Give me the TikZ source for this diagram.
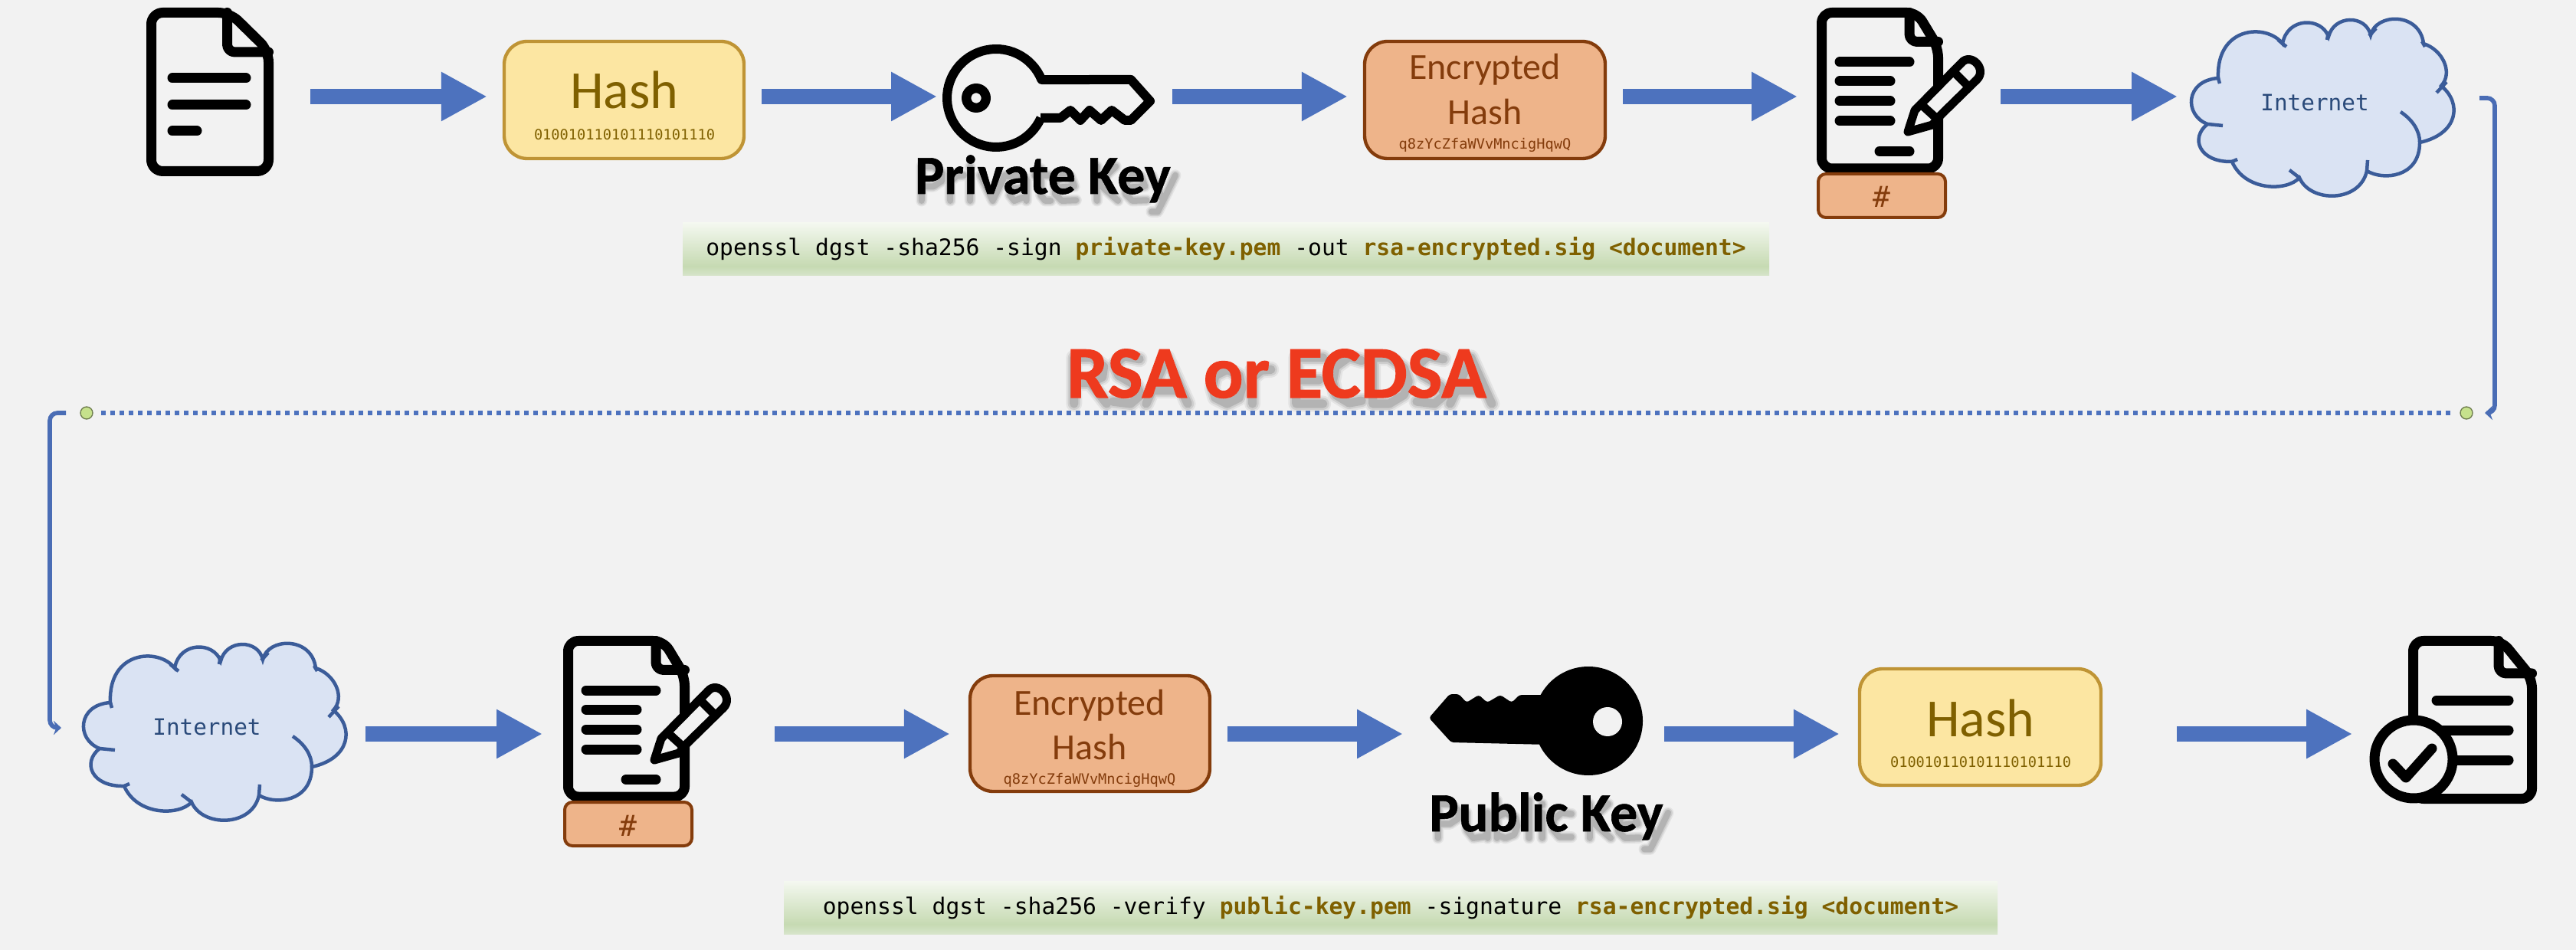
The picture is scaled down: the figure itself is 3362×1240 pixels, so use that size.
\documentclass[tikz,border=0pt]{standalone}
\usepackage{fontspec}
\setmainfont{Carlito}
\newfontfamily\monof{DejaVu Sans Mono}
\newfontfamily\keyf[BoldFeatures={FakeBold=0.8}]{Carlito}
\newfontfamily\titlef[BoldFeatures={FakeBold=1.2}]{Carlito}
\usetikzlibrary{arrows.meta,calc}
\definecolor{bgc}{HTML}{F2F2F2}
\definecolor{arrowc}{HTML}{4D72BE}
\definecolor{hashfill}{HTML}{FCE6A2}
\definecolor{hashline}{HTML}{BF9435}
\definecolor{hashtext}{HTML}{7F6000}
\definecolor{encfill}{HTML}{EEB48A}
\definecolor{encline}{HTML}{843C0C}
\definecolor{cloudfill}{HTML}{DAE3F3}
\definecolor{cloudline}{HTML}{3B5C99}
\definecolor{cloudtext}{HTML}{2A4A7A}
\definecolor{connc}{HTML}{4A6DB5}
\definecolor{dotc}{HTML}{C6E18C}
\definecolor{titlec}{HTML}{EE3A1E}
\definecolor{banA}{HTML}{F4F8F0}
\definecolor{banB}{HTML}{C6DAB2}
\definecolor{banC}{HTML}{D7E5CB}
\pgfdeclareverticalshading{bannershade}{100bp}{color(0bp)=(banC); color(25bp)=(banC); color(34bp)=(banB); color(75bp)=(banA); color(100bp)=(banA)}
\tikzset{
  x=0.3pt,y=-0.3pt,
  blockarrow/.style={draw=arrowc,line width=6pt,-{Triangle[length=18pt,width=18pt,fill=arrowc]}},
  iconbox/.style={inner sep=0pt,outer sep=0pt},
  icon/.style={draw=black,line width=3.9pt,line join=round,line cap=round,fill=bgc},
  iconline/.style={draw=black,line width=3.9pt,line cap=round,line join=round},
  hashbox/.style={draw=hashline,fill=hashfill,line width=1.3pt,rounded corners=9pt,inner sep=0pt},
  encbox/.style={draw=encline,fill=encfill,line width=1.3pt,rounded corners=9pt,inner sep=0pt},
  tagbox/.style={draw=encline,fill=encfill,line width=1.2pt,rounded corners=3pt,inner sep=0pt},
  txt/.style={inner sep=0pt,anchor=base},
  hashbig/.style={txt,text=hashtext,font=\fontsize{21}{21}\selectfont},
  hashsmall/.style={txt,text=hashtext,font=\monof\fontsize{5.6}{6}\selectfont},
  encbig/.style={txt,text=encline,font=\fontsize{14.4}{15}\selectfont},
  encsmall/.style={txt,text=encline,font=\monof\fontsize{5.6}{6}\selectfont},
  cloudtxt/.style={txt,text=cloudtext,font=\monof\fontsize{8.8}{9}\selectfont},
  cmdtxt/.style={txt,text=black,font=\monof\fontsize{8.9}{9}\selectfont},
  banner/.style={shading=bannershade,inner sep=0pt},
  keylabel/.style={txt,text=black,font=\keyf\bfseries\fontsize{21.6}{22}\selectfont},
  connline/.style={draw=connc,line width=1.7pt,rounded corners=3pt},
  dotline/.style={draw=arrowc,line width=1.9pt,dash pattern=on 1.8pt off 1.8pt},
  enddot/.style={circle,draw=black!45!dotc,line width=0.4pt,fill=dotc,minimum size=4.8pt,inner sep=0pt},
}
\newcommand{\hl}[1]{{\bfseries\color{hashtext}#1}}
% soft drop shadow traced as strokes: x, y, scale, stroke width in pt, path
\newcommand{\softshadow}[5]{%
  \begin{scope}[shift={(#1,#2)},scale=#3]
    \foreach \w/\o in {1.5/0.06,1.15/0.09,0.8/0.13} {%
      \draw[black,opacity=\o,line width=\w*#4 pt,line cap=round,line join=round] #5;
    }
  \end{scope}%
}
\newcommand{\cloudshape}{%
  \draw[draw=cloudline,fill=cloudfill,line width=1.35pt]
    (2895,102) .. controls (2892,34) and (2958,30) .. (2979,57)
    .. controls (2985,22) and (3030,22) .. (3039,48)
    .. controls (3046,19) and (3088,19) .. (3094,46)
    .. controls (3100,17) and (3158,15) .. (3163,57)
    .. controls (3188,65) and (3202,95) .. (3186,112)
    .. controls (3214,135) and (3208,175) .. (3158,186)
    .. controls (3158,232) and (3110,236) .. (3089,223)
    .. controls (3080,265) and (3015,265) .. (3001,232)
    .. controls (2985,250) and (2930,250) .. (2913,211)
    .. controls (2870,212) and (2858,180) .. (2881,162)
    .. controls (2850,150) and (2852,105) .. (2895,102) -- cycle;
  \draw[draw=cloudline,line width=1.35pt]
    (3158,186) .. controls (3158,170) and (3148,156) .. (3133,146)
    (2881,162) -- (2901,164)
    (2913,211) -- (2920,208)
    (3001,232) -- (2988,222)
    (3089,223) -- (3090,209)
    (3193,107) -- (3180,121)
    (2895,102) -- (2897,109)
    (2973,52) -- (2984,61)
    (3039,41) -- (3037,52)
    (3101,37) -- (3092,47)
    (3161,54) -- (3165,61);
}
\newcommand{\signeddoc}[1]{%
  \node[iconbox,minimum width=49.5pt,minimum height=65.1pt] (doc#1) at (2453.5,118.5) {};
  \draw[icon,rounded corners=4pt] (2377.5,16.5) -- (2502,16.5) -- (2529.5,62) -- (2529.5,220) -- (2377.5,220) -- cycle;
  \draw[iconline,rounded corners=3pt] (2492,16.5) -- (2492,54.5) -- (2529.5,54.5);
  \draw[iconline] (2401,81) -- (2492,81) (2401,106) -- (2467,106) (2401,132) -- (2467,132) (2401,158) -- (2467,158) (2453,197.5) -- (2492,197.5);
  \draw[icon,line width=3.3pt,fill=bgc] (2490,172) -- (2499,144) -- (2560,82)
     .. controls (2572,68) and (2594,90) .. (2580,104) -- (2533,150) -- (2522,163) -- cycle;
  \draw[iconline,line width=3.3pt,line cap=butt] (2549.5,93.5) -- (2570,114) (2507,136) -- (2530,157);
  \node[tagbox,minimum width=49.8pt,minimum height=17.1pt] (tag#1) at (2456,255.5) {};
  \node[txt,text=encline,font=\monof\fontsize{11.4}{12}\selectfont] (tagtxt#1) at (2456,271) {\#};
}
\begin{document}
\begin{tikzpicture}
\path[fill=bgc,use as bounding box] (0,0) rectangle (3362,1240);
\coordinate (row1) at (0,126);
\coordinate (row2) at (0,958);

% document 1
\node[iconbox,minimum width=49.8pt,minimum height=66pt] (doc1) at (274,120) {};
\draw[icon,rounded corners=4.5pt] (197.5,16.5) -- (300,16.5) -- (350.5,66) -- (350.5,223.5) -- (197.5,223.5) -- cycle;
\draw[iconline,rounded corners=3pt] (296.5,16.5) -- (296.5,68) -- (350.5,68);
\draw[iconline] (225,102) -- (321,102) (225,137) -- (321,137) (225,171) -- (257,171);

% hash 1
\node[hashbox,minimum width=93.9pt,minimum height=45.9pt] (hash1) at (814.5,130.5) {};
\node[hashbig] (hash1t) at (815,142) {Hash};
\node[hashsmall] (hash1d) at (815,183) {010010110101110101110};

% private key
\node[iconbox,minimum width=83.4pt,minimum height=42.3pt] (key1) at (1369,128.5) {};
\draw[iconline,line width=3.6pt,line cap=butt,line join=round]
  plot[domain=24:338,samples=60] ({1300+64*cos(\x)},{128+64*sin(\x)})
  -- (1476,104) -- (1501,132) -- (1476,157) -- (1468,157) -- (1451,144) -- (1437,157) -- (1422,144) -- (1410,157) -- (1397,144) -- (1384,154) -- (1358,154);
\fill[black,even odd rule] (1274,128) circle[radius=5.7pt] (1274,128) circle[radius=2pt];
\softshadow{1197}{262}{0.72}{3}{
  (8,0)--(8,-62)--(30,-62)--(45,-50)--(45,-36)--(30,-26)--(8,-26)
  (60,0)--(60,-45) (60,-35)--(72,-45)--(85,-46)
  (96,0)--(96,-46) (96,-60)--(96,-62)
  (115,-46)--(137,0)--(159,-46)
  (164,-44)--(190,-46)--(198,-38)--(198,0) (198,-22)--(174,-22)--(168,-10)--(176,0)--(198,-8)
  (213,-46)--(240,-46) (224,-58)--(224,-10)--(232,0)--(242,0)
  (252,-24)--(285,-26)--(278,-44)--(262,-46)--(250,-30)--(250,-12)--(262,0)--(288,-1)
  (326,0)--(326,-62) (360,-62)--(328,-32)--(364,0)
  (380,-24)--(413,-26)--(406,-44)--(390,-46)--(378,-30)--(378,-12)--(390,0)--(416,-1)
  (425,-46)--(446,0) (468,-46)--(446,0)--(436,20)--(425,20)}
\node[keylabel] (lab1) at (1361,253) {Private Key};

% encrypted hash 1
\node[encbox,minimum width=94.2pt,minimum height=45.9pt] (enc1) at (1938,130.5) {};
\node[encbig] (enc1a) at (1938,104) {Encrypted};
\node[encbig] (enc1b) at (1938,163) {Hash};
\node[encsmall] (enc1c) at (1938,195) {q8zYcZfaWVvMncigHqwQ};

% signed document
\signeddoc{2}

% cloud 1
\node[iconbox,minimum width=102.3pt,minimum height=69pt] (cloud1) at (3033.5,141) {};
\cloudshape
\node[cloudtxt] (cloud1t) at (3021,145) {Internet};

% command 1
\node[banner,minimum width=425.4pt,minimum height=20.7pt] (cmd1) at (1600,325.5) {};
\node[cmdtxt] (cmd1t) at (1600,334) {openssl dgst -sha256 -sign \hl{private-key.pem} -out \hl{rsa-encrypted.sig} \hl{<document>}};

% top arrows
\draw[blockarrow,shorten <=14.4pt,shorten >=6pt] (doc1.east |- row1) -- (hash1.west |- row1);
\draw[blockarrow,shorten <=6.3pt,shorten >=2.1pt] (hash1.east |- row1) -- (key1.west |- row1);
\draw[blockarrow,shorten <=6.6pt,shorten >=6pt] (key1.east |- row1) -- (enc1.west |- row1);
\draw[blockarrow,shorten <=6.3pt,shorten >=7.5pt] (enc1.east |- row1) -- (doc2.west |- row1);
\draw[blockarrow,shorten <=22.5pt,shorten >=6.3pt] (doc2.east |- row1) -- (cloud1.west |- row1);

% title
\softshadow{1394}{527}{0.97}{4.2}{
  (8,0)--(8,-62)--(32,-62)--(48,-50)--(46,-36)--(30,-28)--(8,-28) (30,-28)--(52,0)
  (96,-60)--(75,-64)--(62,-52)--(68,-38)--(92,-24)--(98,-12)--(84,0)--(60,-3)
  (105,0)--(133,-62)--(161,0) (116,-18)--(150,-18)
  (214,-46)--(198,-38)--(194,-22)--(198,-8)--(214,0)--(230,-8)--(234,-22)--(230,-38)--cycle
  (248,0)--(248,-45) (248,-35)--(260,-45)--(273,-46)
  (343,-62)--(307,-62)--(307,0)--(343,0) (307,-32)--(338,-32)
  (395,-58)--(378,-63)--(360,-50)--(356,-30)--(360,-12)--(378,-1)--(395,-4)
  (410,0)--(410,-62)--(432,-62)--(452,-48)--(458,-30)--(452,-12)--(432,0)--cycle
  (505,-60)--(484,-64)--(471,-52)--(477,-38)--(501,-24)--(507,-12)--(493,0)--(469,-3)
  (514,0)--(542,-62)--(570,0) (525,-18)--(559,-18)}
\node[txt,text=titlec,font=\titlef\bfseries\fontsize{29}{30}\selectfont] (title) at (1666,519) {RSA or ECDSA};

% separator
\node[enddot] (dotL) at (113,539) {};
\node[enddot] (dotR) at (3219,539) {};
\draw[dotline,shorten <=3pt,shorten >=3pt] (dotL) -- (dotR);
\coordinate (conR1) at (3236,128);
\coordinate (conR2) at (3243,539);
\coordinate (conL1) at (86,539);
\coordinate (conL2) at (80,950);
\draw[connline,-{Stealth[length=3pt,width=5.5pt]}] (conR1) -- (3256,128) -- (3256,539) -- (conR2);
\draw[connline,-{Stealth[length=3pt,width=5.5pt]}] (conL1) -- (65,539) -- (65,950) -- (conL2);

% cloud 2
\node[iconbox,minimum width=102pt,minimum height=68.7pt] (cloud2) at (282,955.5) {};
\begin{scope}[shift={(-2751,815)}]
\cloudshape
\end{scope}
\node[cloudtxt] (cloud2t) at (270,959) {Internet};

% signed document 2
\begin{scope}[shift={(-1636,820)}]
\signeddoc{3}
\end{scope}

% encrypted hash 2
\node[encbox,minimum width=93.9pt,minimum height=45.3pt] (enc2) at (1422.5,957.5) {};
\node[encbig] (enc2a) at (1422,933) {Encrypted};
\node[encbig] (enc2b) at (1422,991) {Hash};
\node[encsmall] (enc2c) at (1422,1023) {q8zYcZfaWVvMncigHqwQ};

% public key
\node[iconbox,minimum width=83.7pt,minimum height=42.3pt] (key2) at (2004.5,941.5) {};
\fill[black,rounded corners=1pt] (1865,937) -- (1892,906) -- (1904,906) -- (1914,917) -- (1930,907) -- (1941,917) -- (1958,907) -- (1973,917) -- (1983,907) -- (2020,907) -- (2020,972) -- (1894,969) -- cycle;
\fill[black] (2073,941) circle[radius=21.3pt];
\fill[bgc] (2098,942) circle[radius=5.7pt];
\softshadow{1871}{1094}{0.72}{3}{
  (8,0)--(8,-62)--(30,-62)--(45,-50)--(45,-36)--(30,-26)--(8,-26)
  (60,-46)--(60,-15)--(72,0)--(92,-3)--(98,-10) (98,-46)--(98,0)
  (115,0)--(115,-68) (115,-38)--(130,-46)--(148,-38)--(152,-22)--(146,-6)--(130,0)--(115,-6)
  (173,0)--(173,-68)
  (197,0)--(197,-46) (197,-60)--(197,-62)
  (250,-44)--(232,-46)--(218,-34)--(216,-16)--(228,-2)--(250,-2)
  (283,0)--(283,-62) (317,-62)--(285,-32)--(321,0)
  (337,-24)--(370,-26)--(363,-44)--(347,-46)--(335,-30)--(335,-12)--(347,0)--(373,-1)
  (382,-46)--(403,0) (425,-46)--(403,0)--(393,20)--(382,20)}
\node[keylabel] (lab2) at (2018,1085) {Public Key};

% hash 2
\node[hashbox,minimum width=94.5pt,minimum height=45.6pt] (hash2) at (2584.5,949) {};
\node[hashbig] (hash2t) at (2585,961) {Hash};
\node[hashsmall] (hash2d) at (2585,1001) {010010110101110101110};

% verified document
\node[iconbox,minimum width=50.4pt,minimum height=65.7pt] (doc4) at (3227,939.5) {};
\draw[icon,rounded corners=4pt] (3149.5,836.5) -- (3265,836.5) -- (3304.5,885) -- (3304.5,1042.5) -- (3149.5,1042.5) -- cycle;
\draw[iconline,rounded corners=3pt] (3261,836.5) -- (3261,879) -- (3304.5,879);
\draw[iconline] (3180,914) -- (3274,914) (3180,953) -- (3274,953) (3180,992) -- (3274,992);
\draw[icon] (3150,991) circle[radius=15.3pt];
\draw[iconline] (3123,997) -- (3140,1015) -- (3174,977);
\node[iconbox,minimum width=33.9pt,minimum height=34.5pt] (check) at (3150,991) {};

% command 2
\node[banner,minimum width=475.2pt,minimum height=20.7pt] (cmd2) at (1815,1184.5) {};
\node[cmdtxt] (cmd2t) at (1815,1193) {openssl dgst -sha256 -verify \hl{public-key.pem} -signature \hl{rsa-encrypted.sig} \hl{<document>}};

% bottom arrows
\draw[blockarrow,shorten <=7.5pt,shorten >=8.1pt] (cloud2.east |- row2) -- (doc3.west |- row2);
\draw[blockarrow,shorten <=33.3pt,shorten >=7.2pt] (doc3.east |- row2) -- (enc2.west |- row2);
\draw[blockarrow,shorten <=6.3pt,shorten >=10.2pt] (enc2.east |- row2) -- (key2.west |- row2);
\draw[blockarrow,shorten <=8.4pt,shorten >=7.2pt] (key2.east |- row2) -- (hash2.west |- row2);
\draw[blockarrow,shorten <=29.1pt,shorten >=7pt] (hash2.east |- row2) -- (check.west |- row2);
\end{tikzpicture}
\end{document}
